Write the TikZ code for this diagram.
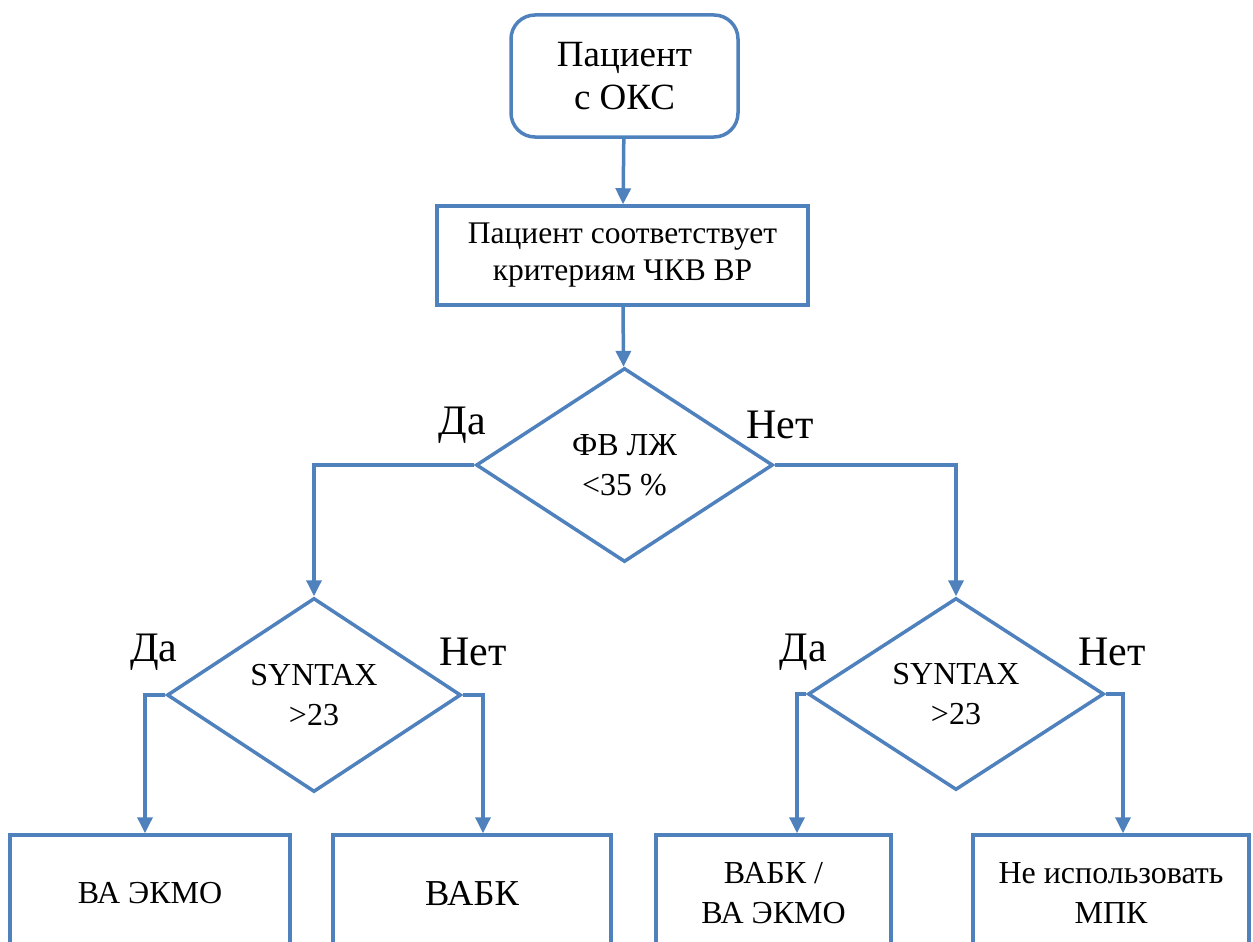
\documentclass[tikz,border=0pt]{standalone}
\usepackage{fontspec}
\setmainfont{Liberation Serif}
\usetikzlibrary{arrows.meta,shapes.geometric,positioning}
\definecolor{flowblue}{RGB}{79,129,189}

\begin{document}
\begin{tikzpicture}[x=1pt,y=-1pt,
    arr/.style={draw=flowblue,line width=3.5pt,-{Triangle[length=16pt,width=15pt]}},
    txt/.style={font=\fontsize{32}{40}\selectfont},
    yesno/.style={font=\fontsize{42}{48}\selectfont,inner sep=0pt}]
      \useasboundingbox (0,0) rectangle (1253,942);
      \clip (0,0) rectangle (1253,942);
      \begin{scope}[every node/.style={draw=flowblue,line width=3.5pt,align=center,inner sep=0pt,txt}]
        \node[rounded corners=24pt,minimum width=227pt,minimum height=122pt,font=\fontsize{37}{43}\selectfont] (start) at (624.5,76) {Пациент\\с ОКС};
        \node[minimum width=371pt,minimum height=99pt,font=\fontsize{31.5}{37}\selectfont] (crit) at (622.5,255.5) {Пациент соответствует\\критериям ЧКВ ВР};
        \node[diamond,minimum width=297pt,minimum height=194pt] (lvef) at (624.5,465) {ФВ ЛЖ\\<35 \%};
        \node[diamond,minimum width=294pt,minimum height=194pt] (syntL) at (314,695) {SYNTAX\\>23};
        \node[diamond,minimum width=296pt,minimum height=192pt] (syntR) at (956,694) {SYNTAX\\>23};
        \node[minimum width=280pt,minimum height=116pt] (ecmo) at (150,893) {ВА ЭКМО};
        \node[minimum width=278pt,minimum height=116pt,font=\fontsize{36.5}{42}\selectfont] (iabp) at (472,893) {ВАБК};
        \node[minimum width=235pt,minimum height=116pt] (both) at (773.5,893) {ВАБК /\\ВА ЭКМО};
        \node[minimum width=276pt,minimum height=116pt] (none) at (1111,893) {Не использовать\\МПК};
      \end{scope}
      % Да / Нет
      \node[yesno] (yes1) at (462,425) {Да};
      \node[yesno] (no1) at (780,425) {Нет};
      \node[yesno] (yes2) at (154,652) {Да};
      \node[yesno] (no2) at (473,652) {Нет};
      \node[yesno] (yes3) at (803,652) {Да};
      \node[yesno] (no3) at (1112,652) {Нет};
      \begin{scope}
        \draw[arr] (start) -- (crit);
        \draw[arr] (crit) -- (lvef);
        \draw[arr] (lvef.west) -| (syntL.north);
        \draw[arr] (lvef.east) -| (syntR.north);
        \draw[arr] (syntL.west) -| ([xshift=-5pt]ecmo.north);
        \draw[arr] (syntL.east) -| ([xshift=11pt]iabp.north);
        \draw[arr] (syntR.west) -| ([xshift=23.5pt]both.north);
        \draw[arr] (syntR.east) -| ([xshift=12pt]none.north);
      \end{scope}
    \end{tikzpicture}
\end{document}
